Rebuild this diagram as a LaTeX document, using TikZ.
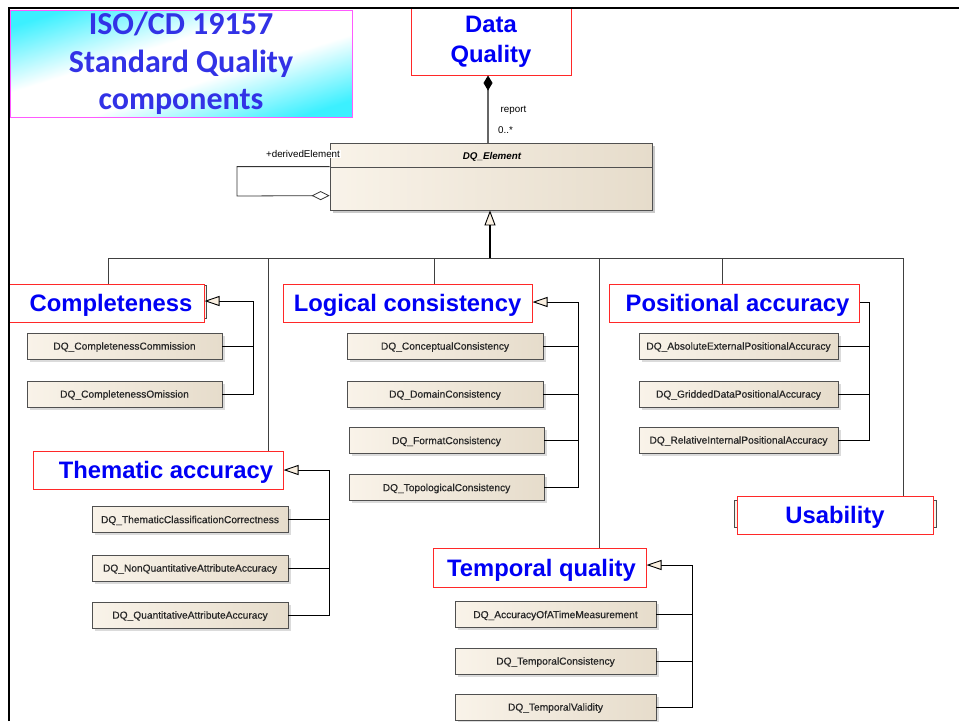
\documentclass[tikz,border=0pt]{standalone}
\usepackage{fontspec}
\setmainfont{Liberation Sans}
\newfontfamily\calibfont{Carlito}
\newfontfamily\clsfont[FakeBold=0.5]{Liberation Sans}
\usetikzlibrary{arrows.meta,shadows,calc}

\definecolor{catblue}{RGB}{0,0,245}
\definecolor{titleblue}{RGB}{50,50,230}
\definecolor{tcyan}{RGB}{60,240,255}
\definecolor{catred}{RGB}{255,40,40}
\definecolor{titleedge}{RGB}{255,90,255}
\definecolor{clsL}{RGB}{249,243,233}
\definecolor{clsR}{RGB}{230,220,203}
\definecolor{clsedge}{RGB}{80,80,80}
\definecolor{tipfill}{RGB}{250,240,225}

\pgfdeclarehorizontalshading{cyanband}{100bp}{color(0bp)=(tcyan); color(20bp)=(tcyan); color(42bp)=(white); color(58bp)=(white); color(80bp)=(tcyan); color(100bp)=(tcyan)}

\tikzset{
  cls/.style={draw=clsedge, line width=0.8pt, left color=clsL, right color=clsR,
    drop shadow={shadow xshift=2.5pt, shadow yshift=-2.5pt, fill=black!28},
    inner sep=0pt, minimum height=26pt, font=\clsfont\fontsize{10.2}{12}\selectfont,
    text=black!85, text height=7.3pt, text depth=0pt},
  catbase/.style={draw=catred, line width=1pt, fill=white, inner sep=0pt, text=catblue},
  cat/.style={catbase, minimum height=38pt, font=\bfseries\fontsize{23.8}{28}\selectfont,
    text height=17pt, text depth=0pt},
  hiddencls/.style={draw=black!70, line width=0.8pt, fill=clsL, inner sep=0pt},
  tree/.style={draw=black, line width=0.9pt},
  gen/.style={tree, -{Triangle[open, length=15pt, width=10pt, fill=tipfill]}},
  bus/.style={draw=black!75, line width=0.8pt},
  lbl/.style={font=\fontsize{9.8}{11}\selectfont, inner sep=0pt},
}

\begin{document}
\begin{tikzpicture}[x=1pt, y=-1pt]
\useasboundingbox (0,0) rectangle (959,721);
\fill[white] (0,0) rectangle (959,721);

% title panel: diagonal cyan-white-cyan shading stretched over the panel
\begin{scope}[transform canvas={shift={(181,63.5)}, xscale=3.42, yscale=1.07}]
  \shade[shading=cyanband, shading angle=-45] (-50,-50) rectangle (50,50);
\end{scope}
\node[draw=titleedge, line width=0.8pt, minimum width=342pt, minimum height=107pt,
  inner sep=0pt, align=center, text=titleblue,
  font=\calibfont\bfseries\fontsize{32}{37.5}\selectfont]
  (title) at (181,63.5) {ISO/CD 19157\\Standard Quality\\components};

% root class and abstract element
\node[catbase, minimum width=160pt, minimum height=67pt, align=center,
  font=\bfseries\fontsize{23.8}{30}\selectfont] (dq) at (491,41.5) {Data\\Quality};

\node[cls, minimum width=322pt, minimum height=67pt,
  drop shadow={shadow xshift=3pt, shadow yshift=-3pt, fill=black!28}] (el) at (491,176.5) {};
\draw[clsedge, line width=0.8pt] ($(el.north west)+(0,25)$) -- ($(el.north east)+(0,25)$);
\node[font=\bfseries\itshape\fontsize{9.8}{11}\selectfont, inner sep=0pt] (elname) at (492,157) {DQ\_Element};

% composition Data Quality <>-- DQ_Element
\coordinate (compx) at (488,0);
\draw[draw=black!60, line width=1.4pt, -{Diamond[length=15pt, width=9pt, fill=black, color=black, line width=0.8pt]}]
  (el.north -| compx) -- (dq.south -| compx);
\node[lbl, anchor=west] (rep) at (500.5,110) {report};
\node[lbl, anchor=west] (mult) at (498,130) {0..*};

% self aggregation
\coordinate (selfx) at (237,0);
\draw[draw=black!80, line width=0.8pt, -{Diamond[open, length=18pt, width=9pt, fill=white]}]
  ($(el.north west)+(0,24)$) -| ($(selfx)+(0,196)$) -- ($(el.north west)+(0,53)$);
\node[lbl, fill=white, inner sep=0.6pt] (der) at (303,154) {+derivedElement};

% generalization bus
\coordinate (hub) at (490,258);
\coordinate (bComp) at (108,258);
\coordinate (bThem) at (268,258);
\coordinate (bLogi) at (434,258);
\coordinate (bTemp) at (599,258);
\coordinate (bPosi) at (722,258);
\coordinate (bUsab) at (903,258);
\draw[bus] (bComp) -- (bUsab);
\draw[line width=1.6pt, -{Triangle[open, length=15pt, width=11pt, fill=tipfill, line width=0.9pt]}]
  (hub) -- (el.south -| hub);

% partly hidden classes behind the labels
\node[hiddencls, minimum width=197pt, minimum height=33pt] (compBack) at (107.5,301.5) {};
\node[hiddencls, minimum width=202pt, minimum height=27pt] (usabBack) at (835,513.5) {};

% quality categories
\node[cat, minimum width=195pt] (comp) at (106.5,303) {\hspace*{9pt}Completeness};
\node[cat, minimum width=249pt] (logi) at (407.5,303) {Logical consistency};
\node[cat, minimum width=250pt] (posi) at (734,303) {\hspace*{7pt}Positional accuracy};
\node[cat, minimum width=250pt] (them) at (158,470) {\hspace*{16pt}Thematic accuracy};
\node[cat, minimum width=213pt, minimum height=39pt] (temp) at (539.5,567.5) {\hspace*{4pt}Temporal quality};
\node[cat, minimum width=196pt] (usab) at (835,515) {Usability};

\foreach \b/\n in {bComp/comp, bThem/them, bLogi/logi, bTemp/temp, bPosi/posi, bUsab/usab}
  \draw[bus] (\b) -- (\n.north -| \b);

% completeness elements
\node[cls, minimum width=195pt] (cComm) at (124.5,346) {DQ\_CompletenessCommission};
\node[cls, minimum width=195pt] (cOmis) at (124.5,394) {DQ\_CompletenessOmission};
\coordinate (compSp) at (253,301);
\draw[tree] (cComm.east) -- (cComm.east -| compSp);
\draw[gen] (cOmis.east) -| (compSp) -- (comp.east |- compSp);

% logical consistency elements
\node[cls, minimum width=196pt] (lConc) at (445,346) {DQ\_ConceptualConsistency};
\node[cls, minimum width=196pt] (lDom) at (445,394) {DQ\_DomainConsistency};
\node[cls, minimum width=195pt] (lForm) at (446.5,440.5) {DQ\_FormatConsistency};
\node[cls, minimum width=195pt] (lTopo) at (446.5,487.5) {DQ\_TopologicalConsistency};
\coordinate (logiSp) at (578,302);
\foreach \n in {lConc, lDom, lForm} \draw[tree] (\n.east) -- (\n.east -| logiSp);
\draw[gen] (lTopo.east) -| (logiSp) -- (logi.east |- logiSp);

% positional accuracy elements
\node[cls, minimum width=199pt] (pAbs) at (738.5,346) {DQ\_AbsoluteExternalPositionalAccuracy};
\node[cls, minimum width=199pt] (pGrid) at (738.5,394) {DQ\_GriddedDataPositionalAccuracy};
\node[cls, minimum width=199pt] (pRel) at (738.5,440) {DQ\_RelativeInternalPositionalAccuracy};
\coordinate (posiSp) at (869,302);
\foreach \n in {pAbs, pGrid} \draw[tree] (\n.east) -- (\n.east -| posiSp);
\draw[tree] (pRel.east) -| (posiSp) -- (posi.east |- posiSp);

% thematic accuracy elements
\node[cls, minimum width=196pt] (tClass) at (190,519.5) {DQ\_ThematicClassificationCorrectness};
\node[cls, minimum width=196pt] (tNonQ) at (190,568) {DQ\_NonQuantitativeAttributeAccuracy};
\node[cls, minimum width=196pt] (tQuant) at (190,615) {DQ\_QuantitativeAttributeAccuracy};
\coordinate (themSp) at (329,470);
\foreach \n in {tClass, tNonQ} \draw[tree] (\n.east) -- (\n.east -| themSp);
\draw[gen] (tQuant.east) -| (themSp) -- (them.east |- themSp);

% temporal quality elements
\node[cls, minimum width=201pt] (qAcc) at (555.5,614.5) {DQ\_AccuracyOfATimeMeasurement};
\node[cls, minimum width=201pt] (qCons) at (555.5,661) {DQ\_TemporalConsistency};
\node[cls, minimum width=201pt] (qVal) at (555.5,707) {DQ\_TemporalValidity};
\coordinate (tempSp) at (692,565);
\foreach \n in {qAcc, qCons} \draw[tree] (\n.east) -- (\n.east -| tempSp);
\draw[gen] (qVal.east) -| (tempSp) -- (temp.east |- tempSp);

% slide frame
\draw[line width=2.6pt, black] (9,721) -- (9,8) -- (959,8);
\end{tikzpicture}
\end{document}
